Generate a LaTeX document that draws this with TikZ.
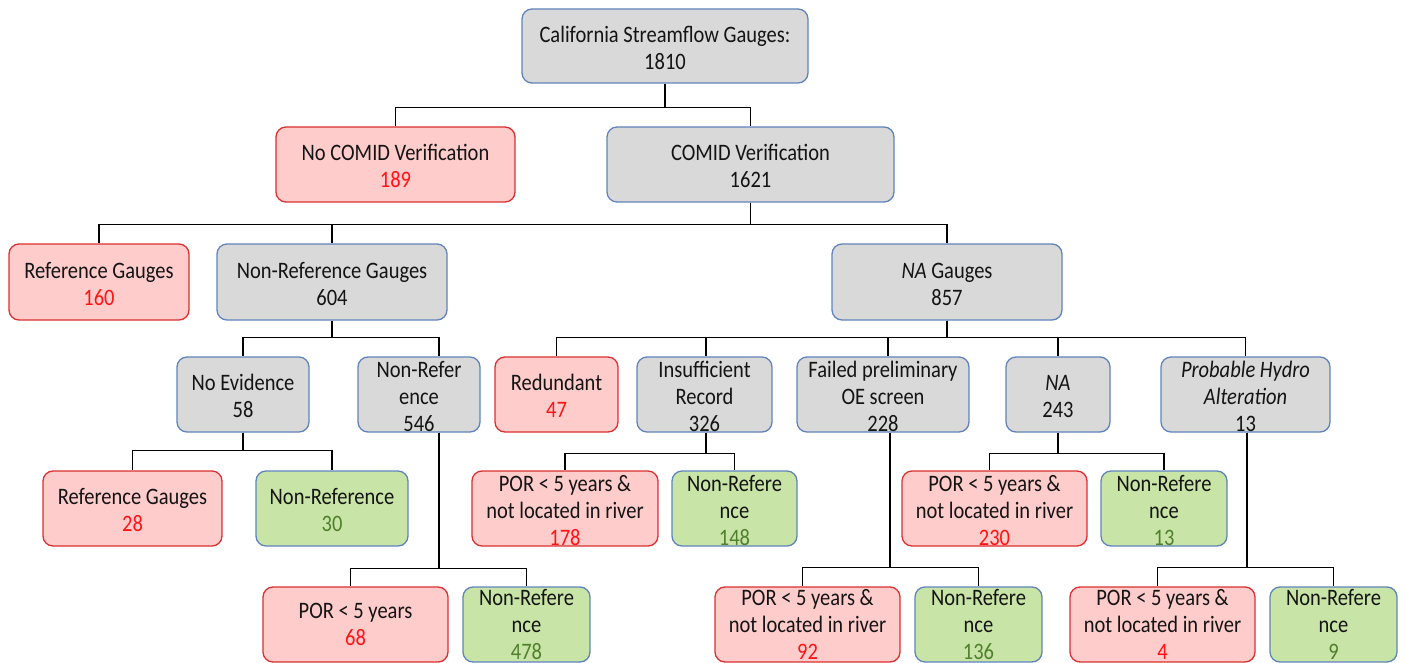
\documentclass[tikz,border=0pt]{standalone}
\usepackage{fontspec}
\setmainfont{Carlito}
\usetikzlibrary{calc}
\definecolor{gfill}{RGB}{217,217,217}
\definecolor{bborder}{RGB}{96,132,186}
\definecolor{rfill}{RGB}{255,204,204}
\definecolor{rborder}{RGB}{218,48,48}
\definecolor{nfill}{RGB}{200,228,166}
\definecolor{rnum}{RGB}{255,20,20}
\definecolor{gnum}{RGB}{80,128,45}
\tikzset{
  bx/.style={rectangle, rounded corners=10pt, line width=1.3pt, inner sep=0pt},
  graybox/.style={bx, draw=bborder, fill=gfill},
  redbox/.style={bx, draw=rborder, fill=rfill},
  greenbox/.style={bx, draw=bborder, fill=nfill},
  txt/.style={inner sep=0pt, yshift=-4.5pt, font=\fontsize{20.5}{23.5}\selectfont, text=black!92},
  btxt/.style={txt, yshift=2pt},
  conn/.style={draw=black, line width=1.4pt},
}
\newcommand\rn[1]{\textcolor{rnum}{#1}}
\newcommand\gn[1]{\textcolor{gnum}{#1}}
\newcommand\tx[1]{\scalebox{1}[1.15]{\begin{tabular}{@{}c@{}}#1\end{tabular}}}
\newcommand\mybox[6]{%
  \node[#2, minimum width=#5pt, minimum height=#6pt] (#1) at (#3,#4) {};}
\begin{document}
\begin{tikzpicture}[x=1pt,y=-1pt]
\useasboundingbox (0,0) rectangle (1405,663);
% boxes
\mybox{top}{graybox}{665}{46}{286}{74}
\mybox{nocomid}{redbox}{395.5}{164.5}{239}{75}
\mybox{comid}{graybox}{750.5}{164.5}{287}{75}
\mybox{refa}{redbox}{99}{282}{180}{76}
\mybox{nonrefg}{graybox}{332}{282}{230}{76}
\mybox{nag}{graybox}{947}{282}{230}{76}
\mybox{noev}{graybox}{243}{394.5}{132}{75}
\mybox{nrfive}{graybox}{419}{394.5}{122}{75}
\mybox{redund}{redbox}{556.5}{394.5}{123}{75}
\mybox{insuf}{graybox}{704.5}{394.5}{135}{75}
\mybox{failed}{graybox}{883}{394.5}{172}{75}
\mybox{nat}{graybox}{1058}{394.5}{104}{75}
\mybox{prob}{graybox}{1245.5}{394.5}{169}{75}
\mybox{refb}{redbox}{132.5}{508.5}{179}{75}
\mybox{nrthirty}{greenbox}{332}{508.5}{152}{75}
\mybox{porA}{redbox}{565}{508.5}{186}{75}
\mybox{nrA}{greenbox}{734.5}{508.5}{125}{75}
\mybox{porB}{redbox}{994.5}{508.5}{185}{75}
\mybox{nrB}{greenbox}{1164}{508.5}{126}{75}
\mybox{porC}{redbox}{355.5}{624.5}{185}{75}
\mybox{nrC}{greenbox}{526.5}{624.5}{127}{75}
\mybox{porD}{redbox}{807.5}{624.5}{185}{75}
\mybox{nrD}{greenbox}{978.5}{624.5}{127}{75}
\mybox{porE}{redbox}{1162.5}{624.5}{185}{75}
\mybox{nrE}{greenbox}{1333.5}{624.5}{127}{75}
% texts
\node[txt] (ttop) at (top) {\tx{California Streamflow Gauges:\\1810}};
\node[txt] (tnocomid) at (nocomid) {\tx{No COMID Verification\\\rn{189}}};
\node[txt] (tcomid) at (comid) {\tx{COMID Verification\\1621}};
\node[txt] (trefa) at (refa) {\tx{Reference Gauges\\\rn{160}}};
\node[txt] (tnonrefg) at (nonrefg) {\tx{Non-Reference Gauges\\604}};
\node[txt] (tnag) at (nag) {\tx{\textit{NA} Gauges\\857}};
\node[txt] (tnoev) at (noev) {\tx{No Evidence\\58}};
\node[txt] (tnrfive) at (nrfive) {\tx{Non-Refer\\ence\\546}};
\node[txt] (tredund) at (redund) {\tx{Redundant\\\rn{47}}};
\node[txt] (tinsuf) at (insuf) {\tx{Insufficient\\Record\\326}};
\node[txt] (tfailed) at (failed) {\tx{Failed preliminary\\OE screen\\228}};
\node[txt] (tnat) at (nat) {\tx{\textit{NA}\\243}};
\node[txt] (tprob) at (prob) {\tx{\textit{Probable Hydro}\\\textit{Alteration}\\13}};
\node[txt] (trefb) at (refb) {\tx{Reference Gauges\\\rn{28}}};
\node[txt] (tnrthirty) at (nrthirty) {\tx{Non-Reference\\\gn{30}}};
\node[txt] (tporA) at (porA) {\tx{POR < 5 years \&\\not located in river\\\rn{178}}};
\node[txt] (tnrA) at (nrA) {\tx{Non-Refere\\nce\\\gn{148}}};
\node[txt] (tporB) at (porB) {\tx{POR < 5 years \&\\not located in river\\\rn{230}}};
\node[txt] (tnrB) at (nrB) {\tx{Non-Refere\\nce\\\gn{13}}};
\node[btxt] (tporC) at (porC) {\tx{POR < 5 years\\\rn{68}}};
\node[btxt] (tnrC) at (nrC) {\tx{Non-Refere\\nce\\\gn{478}}};
\node[btxt] (tporD) at (porD) {\tx{POR < 5 years \&\\not located in river\\\rn{92}}};
\node[btxt] (tnrD) at (nrD) {\tx{Non-Refere\\nce\\\gn{136}}};
\node[btxt] (tporE) at (porE) {\tx{POR < 5 years \&\\not located in river\\\rn{4}}};
\node[btxt] (tnrE) at (nrE) {\tx{Non-Refere\\nce\\\gn{9}}};
% connectors
\draw[conn] (top.south) -- ++(0,24) -| (nocomid.north);
\draw[conn] (top.south) -- ++(0,24) -| (comid.north);
\draw[conn] (comid.south) -- ++(0,22) -| (refa.north);
\draw[conn] (comid.south) -- ++(0,22) -| (nonrefg.north);
\draw[conn] (comid.south) -- ++(0,22) -| (nag.north);
\draw[conn] (nonrefg.south) -- ++(0,17) -| (noev.north);
\draw[conn] (nonrefg.south) -- ++(0,17) -| ([xshift=20pt]nrfive.north);
\draw[conn] (nag.south) -- ++(0,17) -| (redund.north);
\draw[conn] (nag.south) -- ++(0,17) -| ([xshift=1.5pt]insuf.north);
\draw[conn] (nag.south) -- ++(0,17) -| ([xshift=5pt]failed.north);
\draw[conn] (nag.south) -- ++(0,17) -| (nat.north);
\draw[conn] (nag.south) -- ++(0,17) -| (prob.north);
\draw[conn] (noev.south) -- ++(0,18) -| (refb.north);
\draw[conn] (noev.south) -- ++(0,18) -| (nrthirty.north);
\draw[conn] ([xshift=1.5pt]insuf.south) -- ++(0,21) -| (porA.north);
\draw[conn] ([xshift=1.5pt]insuf.south) -- ++(0,21) -| (nrA.north);
\draw[conn] (nat.south) -- ++(0,21) -| ([xshift=-5pt]porB.north);
\draw[conn] (nat.south) -- ++(0,21) -| (nrB.north);
\draw[conn] ([xshift=20pt]nrfive.south) -- ++(0,136) -| ([xshift=-5pt]porC.north);
\draw[conn] ([xshift=20pt]nrfive.south) -- ++(0,136) -| (nrC.north);
\draw[conn] ([xshift=7pt]failed.south) -- ++(0,135) -| ([xshift=-5pt]porD.north);
\draw[conn] ([xshift=7pt]failed.south) -- ++(0,135) -| (nrD.north);
\draw[conn] ([xshift=1.5pt]prob.south) -- ++(0,135) -| ([xshift=-5pt]porE.north);
\draw[conn] ([xshift=1.5pt]prob.south) -- ++(0,135) -| (nrE.north);
\end{tikzpicture}
\end{document}
